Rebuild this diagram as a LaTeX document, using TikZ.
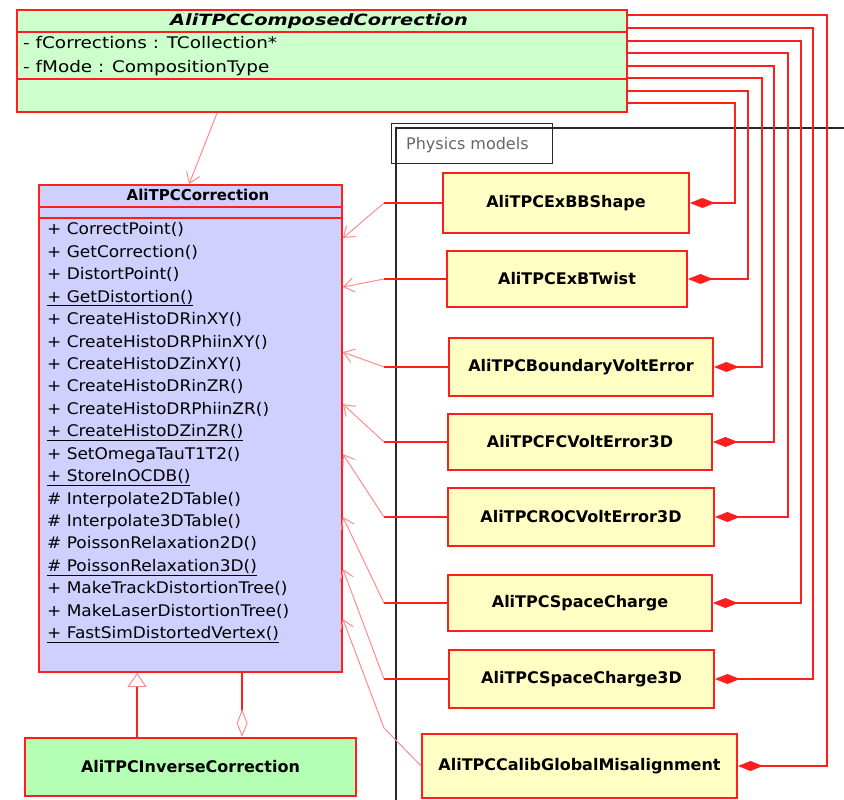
\documentclass[tikz,border=0pt]{standalone}
\usepackage{fontspec}
\setmainfont{DejaVu Sans}
\newfontfamily\widefont[FakeStretch=1.25]{DejaVu Sans}
\newfontfamily\attrfont[FakeStretch=1.15]{DejaVu Sans}
\newfontfamily\methfont[FakeStretch=1.06]{DejaVu Sans}
\usetikzlibrary{arrows.meta,calc}
\definecolor{umlred}{RGB}{255,30,30}
\definecolor{palered}{RGB}{255,140,140}
\definecolor{yel}{RGB}{255,255,196}
\definecolor{lgreen}{RGB}{204,255,204}
\definecolor{lblue}{RGB}{208,208,255}
\definecolor{mgreen}{RGB}{180,255,180}
\definecolor{framec}{RGB}{40,40,40}
\tikzset{
  box/.style={draw=umlred, line width=1.8pt, rectangle, inner sep=0pt,
    font=\bfseries\fontsize{16}{19}\selectfont},
  ybox/.style={box, fill=yel},
  conn/.style={draw=umlred, line width=2pt},
  gen/.style={draw=palered, line width=1pt, -{Straight Barb[length=10pt,width=14pt]}},
  compos/.style={conn, {Diamond[length=25pt,width=10pt,fill=umlred]}-},
  meth/.style={anchor=base west, inner sep=0pt, font=\methfont\fontsize{16}{19}\selectfont},
  attr/.style={anchor=base west, inner sep=0pt, font=\attrfont\fontsize{16}{19}\selectfont},
  framel/.style={draw=framec, line width=1.4pt},
}
\begin{document}
\begin{tikzpicture}[x=1pt,y=-1pt]
\useasboundingbox (0,0) rectangle (844,800);
% package frame
\coordinate (f1) at (396,800);
\coordinate (f2) at (396,128);
\coordinate (f3) at (844,128);
\draw[framel] (f1) -- (f2) -- (f3);
\node[framel, draw, minimum width=161pt, minimum height=40pt, anchor=north west, inner sep=0pt] (pkg) at (391,123) {};
\node[anchor=base west, inner sep=0pt, text=black!60, font=\fontsize{16}{19}\selectfont] (pkgl) at (406,149) {Physics models};

% composed correction
\node[box, fill=lgreen, minimum width=610pt, minimum height=102pt] (comp) at (322,61) {};
\draw[conn] ($(comp.north west)+(0,23)$) -- ($(comp.north east)+(0,23)$);
\draw[conn] ($(comp.north west)+(0,70)$) -- ($(comp.north east)+(0,70)$);
\node[anchor=base, inner sep=0pt, font=\widefont\bfseries\itshape\fontsize{15.5}{18}\selectfont] (ctitle) at (319,26) {AliTPCComposedCorrection};
\node[attr] (a1) at (23,49) {- fCorrections : TCollection*};
\node[attr] (a2) at (23,73) {- fMode : CompositionType};

% AliTPCCorrection
\node[box, fill=lblue, minimum width=303pt, minimum height=487pt] (corr) at (190.5,428.5) {};
\draw[conn] ($(corr.north west)+(0,23)$) -- ($(corr.north east)+(0,23)$);
\draw[conn] ($(corr.north west)+(0,34)$) -- ($(corr.north east)+(0,34)$);
\node[anchor=base, inner sep=0pt, font=\bfseries\fontsize{15}{18}\selectfont] (rtitle) at (198,200) {AliTPCCorrection};
\foreach \t [count=\i] in {
  {+ CorrectPoint()},
  {+ GetCorrection()},
  {+ DistortPoint()},
  {\underline{+ GetDistortion()}},
  {+ CreateHistoDRinXY()},
  {+ CreateHistoDRPhiinXY()},
  {+ CreateHistoDZinXY()},
  {+ CreateHistoDRinZR()},
  {+ CreateHistoDRPhiinZR()},
  {\underline{+ CreateHistoDZinZR()}},
  {+ SetOmegaTauT1T2()},
  {\underline{+ StoreInOCDB()}},
  {\# Interpolate2DTable()},
  {\# Interpolate3DTable()},
  {\# PoissonRelaxation2D()},
  {\underline{\# PoissonRelaxation3D()}},
  {+ MakeTrackDistortionTree()},
  {+ MakeLaserDistortionTree()},
  {\underline{+ FastSimDistortedVertex()}}}
  \node[meth] (m\i) at (47,{229+22.44*(\i-1)+5.8}) {\t};

% inverse correction
\node[box, fill=mgreen, minimum width=331pt, minimum height=58pt] (inv) at (190.5,767) {AliTPCInverseCorrection};

% physics model classes
\node[ybox, minimum width=246pt, minimum height=60pt] (exbb) at (566,203) {AliTPCExBBShape};
\node[ybox, minimum width=240pt, minimum height=56pt] (twist) at (567,279) {AliTPCExBTwist};
\node[ybox, minimum width=264pt, minimum height=58pt] (bound) at (581,367) {AliTPCBoundaryVoltError};
\node[ybox, minimum width=264pt, minimum height=56pt] (fc) at (580,442) {AliTPCFCVoltError3D};
\node[ybox, minimum width=266pt, minimum height=58pt] (roc) at (581,517) {AliTPCROCVoltError3D};
\node[ybox, minimum width=264pt, minimum height=56pt] (sc) at (580,603) {AliTPCSpaceCharge};
\node[ybox, minimum width=265pt, minimum height=58pt] (sc3d) at (581.5,679) {AliTPCSpaceCharge3D};
\node[ybox, minimum width=315pt, minimum height=64pt] (calib) at (579.5,766) {AliTPCCalibGlobalMisalignment};

% composition connectors
\foreach \n/\lx/\dy in {calib/827/6, sc3d/813/19, sc/801/32, roc/788/44, fc/774/57, bound/762/69, twist/748/82, exbb/735/94} {
  \coordinate (s\n) at ($(comp.north east)+(0,\dy)$);
  \coordinate (l\n) at (\lx,0);
  \draw[compos] (\n.east) -| (l\n |- s\n) -- (s\n);
}

% generalisation connectors
\coordinate (kx) at (384,0);
\foreach \n/\dy in {exbb/54, twist/103, bound/168, fc/220, roc/270, sc/333, sc3d/385} {
  \coordinate (t\n) at ($(corr.north east)+(0,\dy)$);
  \draw[conn] (\n.west) -- (\n.west -| kx) coordinate (k\n);
  \draw[gen] (k\n) -- (t\n);
}
\coordinate (tcalib) at ($(corr.north east)+(0,435)$);
\coordinate (kcalib) at (384,728);
\draw[gen] (calib.west) -- (kcalib) -- (tcalib);

% composed -> correction
\draw[gen] ($(comp.south west)+(201,0)$) -- ($(corr.north west)+(151,0)$);

% inverse -> correction (inheritance)
\draw[conn, -{Triangle[open, length=14pt, width=19pt, fill=white, color=palered, line width=1pt]}] ($(inv.north west)+(113,0)$) -- ($(corr.south west)+(99,0)$);
% aggregation
\draw[conn, -{Diamond[open, length=28pt, width=11pt, fill=white, color=palered, line width=1pt]}] ($(corr.south west)+(204,0)$) -- ($(inv.north west)+(218,0)$);
\end{tikzpicture}
\end{document}
